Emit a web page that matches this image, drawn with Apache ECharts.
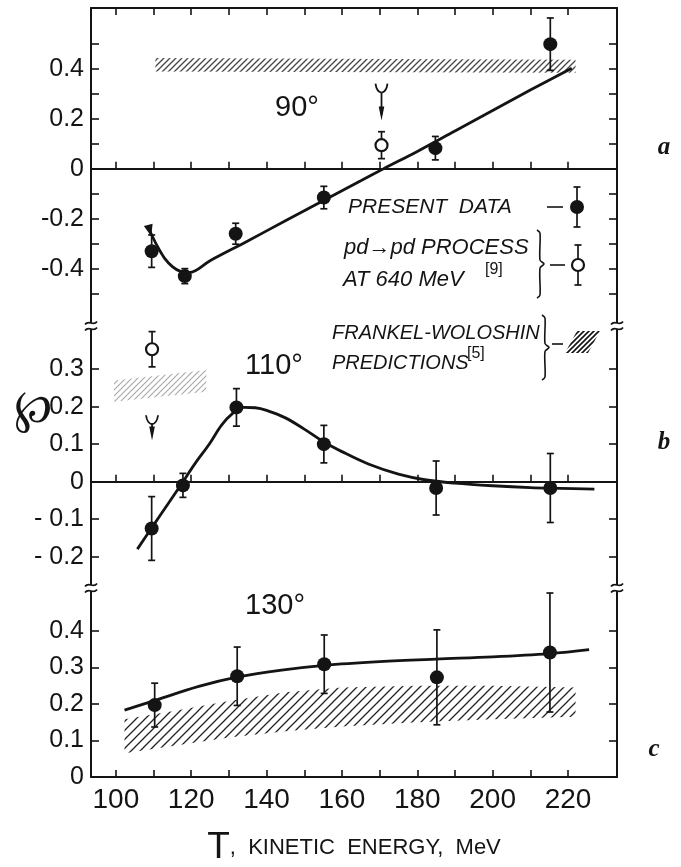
<!DOCTYPE html>
<html>
<head>
<meta charset="utf-8">
<script src="https://cdn.jsdelivr.net/npm/echarts@6/dist/echarts.min.js"></script>
<style>
  html, body { margin: 0; padding: 0; background: #fff; }
  #chart { width: 681px; height: 867px; }
</style>
</head>
<body>
<div id="chart"></div>
<script>
// panel a, 90 deg
const energyA = [109.5, 118.3, 131.8, 155.2, 184.8, 215.3];
const polarA = [-0.33, -0.43, -0.26, -0.115, 0.083, 0.50];
const errorA = [0.065, 0.03, 0.042, 0.045, 0.047, 0.105];
const pdEnergyA = [170.5];
const pdPolarA = [0.095];
const pdErrorA = [0.054];
const arrowA = [170.5, 0.342, 0.194];   // energy, tail, tip
const curveXA = [109, 111, 113, 115, 117, 119.5, 125, 135, 145, 155, 165, 171, 180, 190, 200, 210, 221];
const curveYA = [-0.248, -0.31, -0.36, -0.392, -0.41, -0.415, -0.368, -0.289, -0.208, -0.128, -0.048, 0, 0.07, 0.152, 0.234, 0.316, 0.403];
const bandXA = [110.5, 222];
const bandLowA = [0.39, 0.385];
const bandHighA = [0.445, 0.438];

// panel b, 110 deg
const energyB = [109.5, 117.8, 132, 155.2, 185, 215.3];
const polarB = [-0.125, -0.01, 0.198, 0.10, -0.017, -0.017];
const errorB = [0.085, 0.032, 0.05, 0.05, 0.072, 0.092];
const pdEnergyB = [109.6];
const pdPolarB = [0.353];
const pdErrorB = [0.047];
const arrowB = [109.6, 0.177, 0.11];
const curveXB = [105.7, 110, 114, 117.5, 121, 125, 128, 131, 134, 137, 140, 145, 150, 155, 160, 167, 175, 182, 190, 200, 210, 218, 227];
const curveYB = [-0.18, -0.116, -0.057, -0.005, 0.048, 0.103, 0.15, 0.182, 0.198, 0.197, 0.19, 0.17, 0.14, 0.107, 0.08, 0.047, 0.02, 0.005, -0.004, -0.011, -0.016, -0.018, -0.02];
const bandXB = [99.5, 124];
const bandLowB = [0.213, 0.24];
const bandHighB = [0.27, 0.298];

// panel c, 130 deg
const energyC = [110.3, 132.2, 155.3, 185.2, 215.2];
const polarC = [0.197, 0.276, 0.309, 0.273, 0.341];
const errorC = [0.06, 0.08, 0.08, 0.13, 0.163];
const curveXC = [102.3, 110.5, 122, 132.4, 144, 155.4, 170, 185, 200, 215, 225.6];
const curveYC = [0.183, 0.21, 0.248, 0.274, 0.293, 0.306, 0.316, 0.323, 0.329, 0.338, 0.349];
const bandXC = [102.3, 115, 130, 145, 160, 180, 200, 222];
const bandLowC = [0.065, 0.085, 0.108, 0.125, 0.138, 0.15, 0.158, 0.165];
const bandHighC = [0.158, 0.18, 0.208, 0.232, 0.245, 0.25, 0.25, 0.245];

// ticks and labels
const energyTicks = [100, 110, 120, 130, 140, 150, 160, 170, 180, 190, 200, 210, 220];
const energyLabels = [100, 120, 140, 160, 180, 200, 220];
const ticksA = [-0.5, -0.4, -0.3, -0.2, -0.1, 0, 0.1, 0.2, 0.3, 0.4, 0.5];
const labelsA = [-0.4, -0.2, 0, 0.2, 0.4];
const ticksB = [-0.2, -0.1, 0, 0.1, 0.2, 0.3];
const labelsB = [-0.2, -0.1, 0, 0.1, 0.2, 0.3];
const ticksC = [0, 0.1, 0.2, 0.3, 0.4];
const labelsC = [0, 0.1, 0.2, 0.3, 0.4];

const INK = '#141414';
const FONT = '"Liberation Sans", Arial, sans-serif';

function hatch(step, width, color) {
  const c = document.createElement('canvas');
  c.width = step; c.height = step;
  const g = c.getContext('2d');
  g.strokeStyle = color;
  g.lineWidth = width;
  g.beginPath();
  g.moveTo(-1, step + 1); g.lineTo(step + 1, -1);
  g.moveTo(-step / 2 - 1, step / 2 + 1); g.lineTo(step / 2 + 1, -step / 2 - 1);
  g.moveTo(step / 2 - 1, step * 1.5 + 1); g.lineTo(step * 1.5 + 1, step / 2 - 1);
  g.stroke();
  return { image: c, repeat: 'repeat' };
}

const fmtA = v => v === 0 ? '0' : v.toFixed(1);
const fmtB = v => v === 0 ? '0' : (v < 0 ? '- ' + (-v).toFixed(1) : v.toFixed(1));

function xAx(gridIndex, position, showLabel) {
  return {
    type: 'value', gridIndex, position, min: 93.4, max: 233,
    axisLine: { show: true, onZero: position === 'bottom', lineStyle: { color: INK, width: 2 } },
    axisTick: { show: true, inside: true, length: 7, customValues: energyTicks, lineStyle: { color: INK, width: 1.6 } },
    axisLabel: { show: showLabel, customValues: energyLabels, fontSize: 28, fontFamily: FONT, color: INK, margin: 9 },
    splitLine: { show: false }
  };
}

function yAx(gridIndex, min, max, ticks, labels, right, fmt) {
  return {
    type: 'value', gridIndex, min, max, position: right ? 'right' : 'left',
    axisLine: { show: true, onZero: false, lineStyle: { color: INK, width: 2 } },
    axisTick: { show: true, inside: true, length: 8, customValues: ticks, lineStyle: { color: INK, width: 1.6 } },
    axisLabel: { show: !right, customValues: labels, formatter: fmt, fontSize: 25, fontFamily: FONT, color: INK, margin: 7 },
    splitLine: { show: false }
  };
}

function curve(xi, yi, xs, ys, startArrow) {
  const data = xs.map((x, i) => [x, ys[i]]);
  if (startArrow) {
    data[0] = { value: data[0], symbol: 'triangle', symbolSize: [9, 12], symbolRotate: 195 };
  }
  return {
    type: 'line', xAxisIndex: xi, yAxisIndex: yi, data, smooth: 0.35,
    symbol: 'none', showSymbol: !!startArrow, itemStyle: { color: INK, opacity: 1 },
    lineStyle: { color: INK, width: 2.8 }, z: 3, silent: true
  };
}

function points(xi, yi, xs, ys, open) {
  return {
    type: 'scatter', xAxisIndex: xi, yAxisIndex: yi,
    data: xs.map((x, i) => [x, ys[i]]),
    symbol: 'circle', symbolSize: open ? 12 : 14,
    itemStyle: open ? { color: '#fff', borderColor: INK, borderWidth: 2.2, opacity: 1 } : { color: INK, opacity: 1 },
    z: 6, silent: true
  };
}

function errors(xi, yi, xs, ys, es) {
  return {
    type: 'custom', xAxisIndex: xi, yAxisIndex: yi, clip: false, z: 5, silent: true,
    data: xs.map((x, i) => [x, ys[i], es[i]]),
    encode: { x: 0, y: 1 },
    renderItem(params, api) {
      const x = api.value(0), y = api.value(1), e = api.value(2);
      const t = api.coord([x, y + e]), b = api.coord([x, y - e]);
      const st = { stroke: INK, lineWidth: 1.7 };
      return {
        type: 'group', children: [
          { type: 'line', shape: { x1: t[0], y1: t[1], x2: b[0], y2: b[1] }, style: st },
          { type: 'line', shape: { x1: t[0] - 3.5, y1: t[1], x2: t[0] + 3.5, y2: t[1] }, style: st },
          { type: 'line', shape: { x1: b[0] - 3.5, y1: b[1], x2: b[0] + 3.5, y2: b[1] }, style: st }
        ]
      };
    }
  };
}

function band(xi, yi, xs, lows, highs, fill) {
  return {
    type: 'custom', xAxisIndex: xi, yAxisIndex: yi, z: 1, silent: true,
    data: [[xs[0], lows[0]]],
    encode: { x: 0, y: 1 },
    renderItem(params, api) {
      const pts = xs.map((x, i) => api.coord([x, highs[i]]))
        .concat(xs.map((x, i) => api.coord([x, lows[i]])).reverse());
      return { type: 'polygon', shape: { points: pts }, style: { fill } };
    }
  };
}

function arrow(xi, yi, a) {
  return {
    type: 'custom', xAxisIndex: xi, yAxisIndex: yi, z: 5, silent: true,
    data: [a], encode: { x: 0, y: 1 },
    renderItem(params, api) {
      const p0 = api.coord([api.value(0), api.value(1)]);
      const p1 = api.coord([api.value(0), api.value(2)]);
      const cx = p0[0], ty = p0[1], py = p1[1];
      const st = { stroke: INK, lineWidth: 1.8, fill: null };
      return {
        type: 'group', children: [
          { type: 'bezierCurve', shape: { x1: cx - 6, y1: ty, cpx1: cx - 5, cpy1: ty + 8, x2: cx, y2: ty + 9 }, style: st },
          { type: 'bezierCurve', shape: { x1: cx + 6, y1: ty, cpx1: cx + 5, cpy1: ty + 8, x2: cx, y2: ty + 9 }, style: st },
          { type: 'line', shape: { x1: cx, y1: ty + 9, x2: cx, y2: py - 6 }, style: st },
          { type: 'polygon', shape: { points: [[cx - 2.8, py - 14], [cx + 2.8, py - 14], [cx, py]] }, style: { fill: INK } }
        ]
      };
    }
  };
}

// break marks on the panel b frame corners
function breaks(xi, yi) {
  return {
    type: 'custom', xAxisIndex: xi, yAxisIndex: yi, z: 10, silent: true, clip: false,
    data: [[150, 0]], encode: { x: 0, y: 1 },
    renderItem(params) {
      const cs = params.coordSys;
      const spots = [[cs.x, cs.y], [cs.x + cs.width, cs.y], [cs.x, cs.y + cs.height + 1], [cs.x + cs.width, cs.y + cs.height + 1]];
      const kids = [];
      const st = { stroke: INK, lineWidth: 1.8, fill: null };
      spots.forEach(([x, y]) => {
        kids.push({ type: 'rect', shape: { x: x - 3, y: y - 3, width: 6, height: 6 }, style: { fill: '#fff' } });
        [-3, 3].forEach(d => {
          kids.push({ type: 'bezierCurve', shape: { x1: x - 6, y1: y + d + 1.5, cpx1: x - 2, cpy1: y + d - 4, cpx2: x + 2, cpy2: y + d + 4, x2: x + 6, y2: y + d - 1.5 }, style: st });
        });
      });
      return { type: 'group', children: kids };
    }
  };
}

function txt(x, y, text, font, align) {
  return {
    type: 'text', x, y, silent: true,
    style: { text, font, fill: INK, align: align || 'left', verticalAlign: 'middle', textAlign: align || 'left', textVerticalAlign: 'middle' }
  };
}

function brace(x, top, bottom) {
  const mid = (top + bottom) / 2;
  return {
    type: 'polyline', silent: true,
    shape: { points: [[x, top], [x + 3, top + 3], [x + 3, mid - 4], [x + 7, mid], [x + 3, mid + 4], [x + 3, bottom - 3], [x, bottom]], smooth: 0.3 },
    style: { stroke: INK, lineWidth: 1.6, fill: null }
  };
}

function errSymbol(x, y, open) {
  const st = { stroke: INK, lineWidth: 1.7 };
  return [
    { type: 'line', shape: { x1: x, y1: y - 20, x2: x, y2: y + 20 }, style: st },
    { type: 'line', shape: { x1: x - 3.5, y1: y - 20, x2: x + 3.5, y2: y - 20 }, style: st },
    { type: 'line', shape: { x1: x - 3.5, y1: y + 20, x2: x + 3.5, y2: y + 20 }, style: st },
    { type: 'circle', shape: { cx: x, cy: y, r: open ? 6 : 7 }, style: open ? { fill: '#fff', stroke: INK, lineWidth: 2.2 } : { fill: INK } }
  ];
}

const supFont = '16px ' + FONT;

const graphic = [
  txt(297, 108, '90°', '29px ' + FONT, 'center'),
  txt(274, 366, '110°', '29px ' + FONT, 'center'),
  txt(275, 606, '130°', '29px ' + FONT, 'center'),
  txt(664, 148, 'a', 'italic bold 25px "Liberation Serif", serif', 'center'),
  txt(664, 443, 'b', 'italic bold 25px "Liberation Serif", serif', 'center'),
  txt(654, 750, 'c', 'italic bold 25px "Liberation Serif", serif', 'center'),
  txt(33, 410, '℘', '46px "DejaVu Serif", serif', 'center'),
  txt(348, 207, 'PRESENT  DATA', 'italic 21px ' + FONT),
  { type: 'line', shape: { x1: 547, y1: 207, x2: 563, y2: 207 }, style: { stroke: INK, lineWidth: 1.6 } },
  ...errSymbol(577, 207, false),
  txt(344, 248, 'pd→pd PROCESS', 'italic 22px ' + FONT),
  txt(343, 280, 'AT 640 MeV', 'italic 22px ' + FONT),
  txt(485, 270, '[9]', supFont),
  brace(537, 230, 298),
  { type: 'line', shape: { x1: 550, y1: 265, x2: 565, y2: 265 }, style: { stroke: INK, lineWidth: 1.6 } },
  ...errSymbol(578, 265, true),
  txt(332, 333, 'FRANKEL-WOLOSHIN', 'italic 20px ' + FONT),
  txt(332, 363, 'PREDICTIONS', 'italic 20px ' + FONT),
  txt(467, 354, '[5]', supFont),
  brace(542, 315, 380),
  { type: 'line', shape: { x1: 552, y1: 344, x2: 563, y2: 344 }, style: { stroke: INK, lineWidth: 1.6 } },
  { type: 'polygon', shape: { points: [[565, 353], [577, 331], [600, 331], [588, 353]] }, style: { fill: hatch(5, 1.6, INK) } }
];

const option = {
  animation: false,
  backgroundColor: '#fff',
  grid: [
    { left: 91, right: 64, top: 8, height: 318 },
    { left: 91, right: 64, top: 326, height: 261 },
    { left: 91, right: 64, top: 589, height: 191 }
  ],
  xAxis: [
    xAx(0, 'bottom', false),
    xAx(0, 'top', false),
    xAx(1, 'bottom', false),
    Object.assign(xAx(2, 'bottom', true), {
      name: '{t|T}{s|,  KINETIC  ENERGY,  MeV}',
      nameLocation: 'middle', nameGap: 52,
      nameTextStyle: {
        color: INK,
        rich: {
          t: { fontSize: 37, fontFamily: FONT, color: INK },
          s: { fontSize: 22, fontFamily: FONT, color: INK }
        }
      }
    })
  ],
  yAxis: [
    yAx(0, -0.63, 0.645, ticksA, labelsA, false, fmtA),
    yAx(0, -0.63, 0.645, ticksA, labelsA, true, fmtA),
    yAx(1, -0.281, 0.415, ticksB, labelsB, false, fmtB),
    yAx(1, -0.281, 0.415, ticksB, labelsB, true, fmtB),
    yAx(2, 0, 0.515, ticksC, labelsC, false, fmtA),
    yAx(2, 0, 0.515, ticksC, labelsC, true, fmtA)
  ],
  series: [
    band(0, 0, bandXA, bandLowA, bandHighA, hatch(6, 1.3, '#444')),
    curve(0, 0, curveXA, curveYA, true),
    errors(0, 0, energyA, polarA, errorA),
    errors(0, 0, pdEnergyA, pdPolarA, pdErrorA),
    points(0, 0, energyA, polarA, false),
    points(0, 0, pdEnergyA, pdPolarA, true),
    arrow(0, 0, arrowA),

    band(2, 2, bandXB, bandLowB, bandHighB, hatch(6, 1.2, '#aaa')),
    curve(2, 2, curveXB, curveYB, false),
    errors(2, 2, energyB, polarB, errorB),
    errors(2, 2, pdEnergyB, pdPolarB, pdErrorB),
    points(2, 2, energyB, polarB, false),
    points(2, 2, pdEnergyB, pdPolarB, true),
    arrow(2, 2, arrowB),
    breaks(2, 2),

    band(3, 4, bandXC, bandLowC, bandHighC, hatch(9, 1.3, '#222')),
    curve(3, 4, curveXC, curveYC, false),
    errors(3, 4, energyC, polarC, errorC),
    points(3, 4, energyC, polarC, false)
  ],
  graphic
};

const chart = echarts.init(document.getElementById('chart'), null, { renderer: 'canvas' });
chart.setOption(option);
</script>
</body>
</html>
